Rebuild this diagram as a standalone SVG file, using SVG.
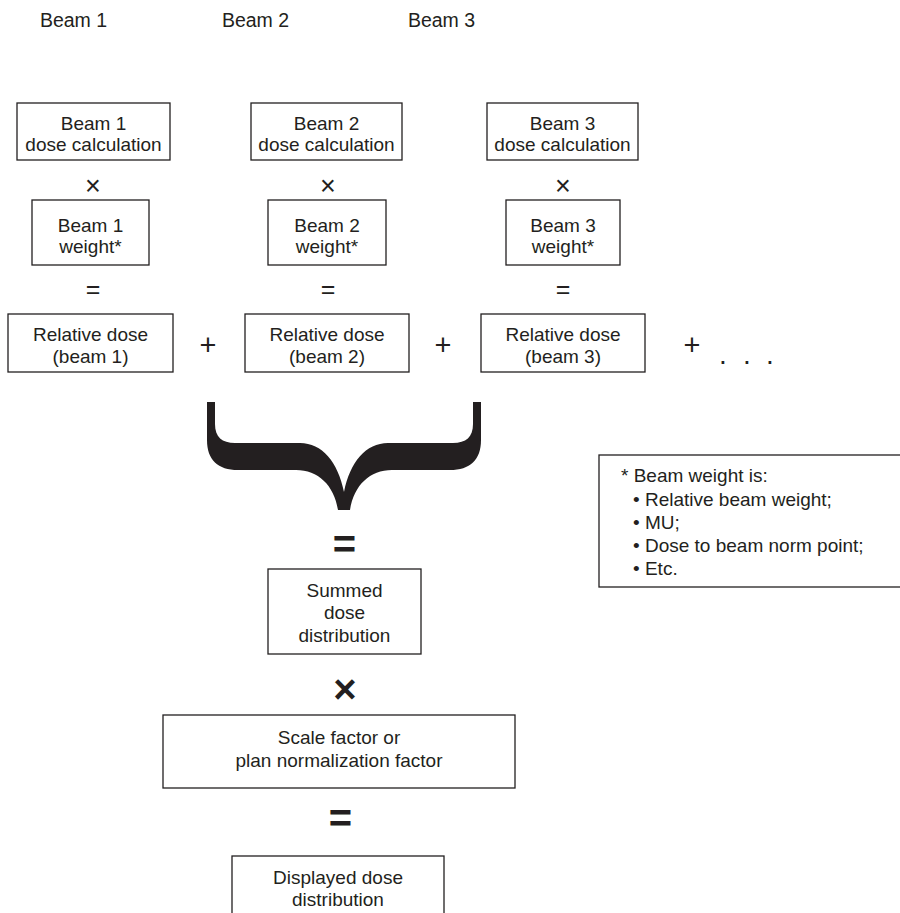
<svg xmlns="http://www.w3.org/2000/svg" width="900" height="913" viewBox="0 0 900 913">
<style>
  text { font-family: "Liberation Sans", Arial, sans-serif; fill: #231f20; }
  .t { font-size: 19px; text-anchor: middle; }
  .title { font-size: 19.5px; text-anchor: middle; }
  .note { font-size: 19px; }
  .box { fill: #ffffff; stroke: #231f20; stroke-width: 1.3; }
  .x { font-size: 27px; text-anchor: middle; }
  .eq { font-size: 25px; text-anchor: middle; }
  .plus { font-size: 29px; text-anchor: middle; }
  .dot { font-size: 28px; text-anchor: middle; }
  .bold { font-size: 40px; font-weight: bold; text-anchor: middle; }
</style>
<rect width="900" height="913" fill="#ffffff"/>

<g id="titles">
  <text class="title" x="73.5" y="27">Beam 1</text>
  <text class="title" x="255.5" y="27">Beam 2</text>
  <text class="title" x="441.5" y="27">Beam 3</text>
</g>

<g id="beam1-calc"><rect class="box" x="17" y="103" width="153" height="57"/>
  <text class="t" x="93.5" y="130">Beam 1</text><text class="t" x="93.5" y="151">dose calculation</text></g>
<g id="beam2-calc"><rect class="box" x="251" y="103" width="151" height="57"/>
  <text class="t" x="326.5" y="130">Beam 2</text><text class="t" x="326.5" y="151">dose calculation</text></g>
<g id="beam3-calc"><rect class="box" x="487" y="103" width="151" height="57"/>
  <text class="t" x="562.5" y="130">Beam 3</text><text class="t" x="562.5" y="151">dose calculation</text></g>

<g id="beam1-weight"><rect class="box" x="32" y="200" width="117" height="65"/>
  <text class="t" x="90.5" y="232">Beam 1</text><text class="t" x="90.5" y="253">weight*</text></g>
<g id="beam2-weight"><rect class="box" x="268" y="200" width="118" height="65"/>
  <text class="t" x="327" y="232">Beam 2</text><text class="t" x="327" y="253">weight*</text></g>
<g id="beam3-weight"><rect class="box" x="506" y="200" width="114" height="65"/>
  <text class="t" x="563" y="232">Beam 3</text><text class="t" x="563" y="253">weight*</text></g>

<g id="rel1"><rect class="box" x="8" y="314" width="165" height="58"/>
  <text class="t" x="90.5" y="341">Relative dose</text><text class="t" x="90.5" y="363">(beam 1)</text></g>
<g id="rel2"><rect class="box" x="245" y="314" width="164" height="58"/>
  <text class="t" x="327" y="341">Relative dose</text><text class="t" x="327" y="363">(beam 2)</text></g>
<g id="rel3"><rect class="box" x="481" y="314" width="164" height="58"/>
  <text class="t" x="563" y="341">Relative dose</text><text class="t" x="563" y="363">(beam 3)</text></g>

<g id="note"><rect class="box" x="599" y="455" width="310" height="132"/>
  <text class="note" x="621" y="482">* Beam weight is:</text>
  <text class="note" x="633" y="506">• Relative beam weight;</text>
  <text class="note" x="633" y="529">• MU;</text>
  <text class="note" x="633" y="552">• Dose to beam norm point;</text>
  <text class="note" x="633" y="575">• Etc.</text></g>

<g id="summed"><rect class="box" x="268" y="569" width="153" height="85"/>
  <text class="t" x="344.5" y="597">Summed</text><text class="t" x="344.5" y="619">dose</text><text class="t" x="344.5" y="642">distribution</text></g>

<g id="scale"><rect class="box" x="163" y="715" width="352" height="73"/>
  <text class="t" x="339" y="744">Scale factor or</text><text class="t" x="339" y="767">plan normalization factor</text></g>

<g id="displayed"><rect class="box" x="232" y="856" width="212" height="70"/>
  <text class="t" x="338" y="884">Displayed dose</text><text class="t" x="338" y="906">distribution</text></g>

<g id="connectors">
  <text class="x" x="93" y="195">×</text>
  <text class="x" x="328" y="195">×</text>
  <text class="x" x="563" y="195">×</text>
  <text class="eq" x="93" y="298">=</text>
  <text class="eq" x="328" y="298">=</text>
  <text class="eq" x="563" y="298">=</text>
  <text class="plus" x="208" y="355">+</text>
  <text class="plus" x="443" y="355">+</text>
  <text class="plus" x="692" y="355">+</text>
  <text class="dot" x="723" y="364">.</text>
  <text class="dot" x="747" y="364">.</text>
  <text class="dot" x="770" y="364">.</text>
  <path id="brace" fill="#231f20" d="M207,402 L215,402 L215,424 C215,437 222,443 235,443 L300,443 C322,443 338,462 344,492 C350,462 366,443 388,443 L453,443 C466,443 473,437 473,424 L473,402 L481,402 L481,440 C481,460 470,470 450,470 L392,470 C370,470 354,485 350,510 L338,510 C334,485 318,470 296,470 L238,470 C218,470 207,460 207,440 Z"/>
  <text class="bold" x="344.5" y="558">=</text>
  <text class="bold" x="345" y="703">×</text>
  <text class="bold" x="340.5" y="832">=</text>
</g>
</svg>
